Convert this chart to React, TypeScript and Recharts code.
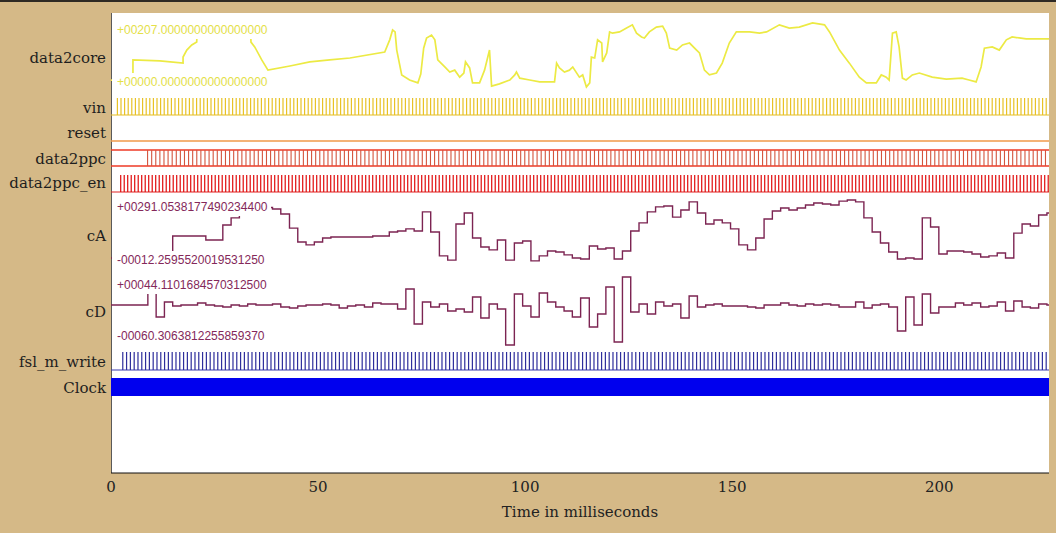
import React from "react";
import { ComposedChart, Line, XAxis, YAxis, Label } from "recharts";

const W = 1056;
const H = 533;
const PLOT_LEFT = 111;
const PLOT_RIGHT = 1049;
const PLOT_TOP = 13;
const PLOT_BOTTOM = 473;
const T_END = 226.5;
const SERIF = "'DejaVu Serif', serif";
const SANS = "'Liberation Sans', Arial, sans-serif";

const xTicks = [0, 50, 100, 150, 200];

// data2core, [ms, value]
const data2core: [number, number][] = [
  [0, 25], [5.3, 25], [5.3, 88], [11.8, 85], [17.4, 78], [17.4, 97], [18.3, 119], [19.5, 135], [20.7, 144],
  [20.8, 182], [33.7, 182], [33.8, 144], [34.7, 129], [36.4, 88], [37.9, 56], [43.2, 69], [48.0, 82],
  [52.8, 88], [57.7, 94], [66.1, 113], [67.3, 151], [68.0, 182], [68.6, 176], [69.0, 119], [70.2, 41],
  [72.1, 25], [74.1, 16], [74.8, 44], [75.5, 125], [76.2, 157], [77.4, 166], [78.2, 151], [78.9, 88],
  [80.6, 66], [81.8, 50], [83.0, 56], [84.2, 34], [85.2, 47], [85.6, 82], [86.6, 63], [87.3, 16],
  [89.0, 16], [90.2, 56], [91.4, 119], [91.9, 6], [93.8, 13], [96.3, 25], [97.5, 41], [97.9, 50],
  [98.7, 31], [101.1, 25], [103.5, 19], [107.1, 19], [107.6, 78], [108.3, 63], [109.5, 50], [110.7, 56],
  [111.5, 66], [113.1, 34], [113.9, 41], [114.8, 3], [115.6, 16], [116.0, 97], [116.8, 94], [117.5, 151],
  [118.5, 141], [118.7, 82], [119.7, 110], [120.4, 176], [121.1, 172], [122.8, 176], [124.5, 188],
  [125.9, 198], [126.9, 172], [128.1, 160], [128.8, 157], [130.0, 176], [131.7, 191], [133.2, 194],
  [134.1, 172], [134.9, 125], [136.6, 119], [138.0, 135], [139.7, 141], [141.4, 119], [142.1, 110],
  [143.3, 56], [144.5, 41], [146.2, 47], [147.6, 78], [149.3, 141], [151.0, 176], [154.2, 176],
  [156.6, 172], [158.3, 176], [161.4, 198], [163.8, 188], [166.2, 191], [169.4, 204], [172.3, 198],
  [173.5, 176], [175.9, 119], [178.3, 78], [180.7, 34], [182.4, 16], [184.8, 16], [186.0, 41],
  [187.2, 34], [187.9, 25], [188.7, 172], [189.6, 176], [190.3, 129], [191.1, 31], [192.0, 25],
  [193.5, 41], [195.2, 47], [198.3, 34], [201.7, 28], [205.5, 31], [207.2, 25], [208.9, 19],
  [210.1, 66], [210.9, 125], [212.8, 129], [214.5, 119], [216.2, 151], [217.6, 160], [219.3, 157],
  [221.0, 154], [226.5, 154],
];

// cA, sample start [ms, value]
const cA: [number, number][] = [
  [0, 7], [14.9, 113], [16.9, 113], [18.9, 113], [20.9, 113], [22.9, 94], [25.0, 94], [27.0, 166],
  [29.0, 200], [31.0, 250], [33.0, 250], [35.0, 250], [37.0, 250], [39.0, 243], [41.0, 219], [43.1, 151],
  [45.1, 84], [47.1, 70], [49.1, 84], [51.1, 103], [53.1, 108], [55.1, 108], [57.1, 108], [59.1, 108],
  [61.2, 108], [63.2, 113], [65.2, 113], [67.2, 132], [69.2, 137], [71.2, 147], [73.2, 137], [75.2, 229],
  [77.2, 132], [79.3, 17], [81.3, -3], [83.3, 171], [85.3, 224], [87.3, 103], [89.3, 60], [91.3, 46],
  [93.3, 94], [95.3, -3], [97.4, 79], [99.4, 89], [101.4, -7], [103.4, 17], [105.4, 41], [107.4, 36],
  [109.4, 22], [111.4, 7], [113.4, 2], [115.5, 65], [117.5, 50], [119.5, 55], [121.5, 2], [123.5, 41],
  [125.5, 137], [127.5, 176], [129.5, 229], [131.5, 253], [133.5, 257], [135.6, 204], [137.6, 238],
  [139.6, 277], [141.6, 224], [143.6, 171], [145.6, 190], [147.6, 176], [149.6, 147], [151.6, 70],
  [153.7, 46], [155.7, 103], [157.7, 195], [159.7, 233], [161.7, 248], [163.7, 238], [165.7, 248],
  [167.7, 262], [169.7, 272], [171.8, 267], [173.8, 262], [175.8, 281], [177.8, 286], [179.8, 277],
  [181.8, 200], [183.8, 132], [185.8, 79], [187.8, 36], [189.9, 2], [191.9, 7], [193.9, 2], [195.9, 200],
  [197.9, 156], [199.9, 26], [201.9, 41], [203.9, 41], [205.9, 36], [207.9, 26], [210.0, 12], [212.0, 17],
  [214.0, 31], [216.0, 7], [218.0, 127], [220.0, 171], [222.0, 161], [224.0, 214], [226.0, 224], [226.5, 224],
];

// cD, sample start [ms, value]
const cD: [number, number][] = [
  [0, 1.1], [8.9, 30], [10.9, -17.3], [12.9, 5.7], [14.9, -0.4], [16.9, 1.1], [18.9, 1.1], [20.9, 4.2],
  [22.9, 1.1], [25.0, -0.4], [27.0, -2.0], [29.0, 1.1], [31.0, -0.4], [33.0, 2.6], [35.0, 1.1], [37.0, 1.1],
  [39.0, 2.6], [41.0, -2.0], [43.1, -3.5], [45.1, -0.4], [47.1, 1.1], [49.1, 1.1], [51.1, 2.6], [53.1, 1.1],
  [55.1, -3.5], [57.1, -0.4], [59.1, 1.1], [61.2, -2.0], [63.2, 4.2], [65.2, 2.6], [67.2, 2.6], [69.2, -5.0],
  [71.2, 25.7], [73.2, -28.1], [75.2, 5.7], [77.2, -2.0], [79.3, 2.6], [81.3, -8.1], [83.3, -5.0], [85.3, -9.6],
  [87.3, 13.4], [89.3, -18.8], [91.3, 2.6], [93.3, -5.0], [95.3, -60.3], [97.4, 18.0], [99.4, -0.4],
  [101.4, -17.3], [103.4, 19.5], [105.4, 5.7], [107.4, -2.0], [109.4, -8.1], [111.4, -17.3], [113.4, 11.9],
  [115.5, -32.7], [117.5, -12.7], [119.5, 28.8], [121.5, -55.7], [123.5, 44.1], [125.5, -9.6], [127.5, 2.6],
  [129.5, -12.7], [131.5, 5.7], [133.5, -0.4], [135.6, 2.6], [137.6, -18.8], [139.6, 14.9], [141.6, -2.0],
  [143.6, 1.1], [145.6, 2.6], [147.6, -0.4], [149.6, -0.4], [151.6, -0.4], [153.7, -2.0], [155.7, -3.5],
  [157.7, 1.1], [159.7, 1.1], [161.7, 4.2], [163.7, 1.1], [165.7, -0.4], [167.7, 2.6], [169.7, 1.1],
  [171.8, 2.6], [173.8, 1.1], [175.8, -2.0], [177.8, -2.0], [179.8, 5.7], [181.8, -3.5], [183.8, 1.1],
  [185.8, 2.6], [187.8, -2.0], [189.9, -38.8], [191.9, 13.4], [193.9, -29.6], [195.9, 18.0], [197.9, -11.2],
  [199.9, -2.0], [201.9, -2.0], [203.9, 4.2], [205.9, 1.1], [207.9, 4.2], [210.0, -2.0], [212.0, -0.4],
  [214.0, 5.7], [216.0, -8.1], [218.0, 7.3], [220.0, -2.0], [222.0, -3.5], [224.0, 2.6], [226.0, 1.1],
  [226.5, 1.1],
];

// digital signals: time span where pulses run [from, to] in ms
const vinPulses: [number, number] = [1.4, T_END];
const data2ppcPulses: [number, number] = [8.7, T_END];
const data2ppcEnPulses: [number, number] = [2.2, T_END];
const fslPulses: [number, number] = [2.7, T_END];
const clockSpan: [number, number] = [0, T_END];

const rowLabels = [
  { name: "data2core", y: 58 },
  { name: "vin", y: 108 },
  { name: "reset", y: 133 },
  { name: "data2ppc", y: 159 },
  { name: "data2ppc_en", y: 183 },
  { name: "cA", y: 236 },
  { name: "cD", y: 312 },
  { name: "fsl_m_write", y: 362 },
  { name: "Clock", y: 388 },
];

const rangeLabels = [
  { text: "+00207.0000000000000000", y: 30, color: "#E4E048" },
  { text: "+00000.0000000000000000", y: 82, color: "#E4E048" },
  { text: "+00291.0538177490234400", y: 207, color: "#84285A" },
  { text: "-00012.2595520019531250", y: 260, color: "#84285A" },
  { text: "+00044.1101684570312500", y: 285, color: "#84285A" },
  { text: "-00060.3063812255859370", y: 336, color: "#84285A" },
];

const toRows = (pairs: [number, number][]) => pairs.map(([t, v]) => ({ t, v }));
const span = ([a, b]: [number, number], v: number) => [{ t: a, v }, { t: b, v }];
const full = (v: number) => span([0, T_END], v);

// map value lo -> pixel yLo, hi -> pixel yHi
const rowDomain = (lo: number, hi: number, yLo: number, yHi: number): [number, number] => {
  const s = (yLo - yHi) / (hi - lo);
  return [lo - (PLOT_BOTTOM - yLo) / s, hi + (yHi - PLOT_TOP) / s];
};

const axes: { id: string; domain: [number, number] }[] = [
  { id: "core", domain: rowDomain(0, 207, 88, 22) },
  { id: "vin", domain: rowDomain(0, 1, 115, 98) },
  { id: "reset", domain: rowDomain(0, 1, 141, 133) },
  { id: "ppc", domain: rowDomain(0, 1, 166, 150) },
  { id: "ppcEn", domain: rowDomain(0, 1, 192, 175) },
  { id: "cA", domain: rowDomain(-12.26, 291.05, 262, 199) },
  { id: "cD", domain: rowDomain(-60.31, 44.11, 345, 277) },
  { id: "fsl", domain: rowDomain(0, 1, 370, 352) },
  { id: "clk", domain: rowDomain(0, 1, 396, 378) },
];

const common = { dataKey: "v", dot: false, activeDot: false, isAnimationActive: false } as const;

export default function App() {
  return (
    <div style={{ position: "absolute", left: 0, top: 0, width: W, height: H, background: "#D5B987", overflow: "hidden" }}>
      <div style={{ position: "absolute", left: 0, top: 0, width: W, height: 2, background: "#2e2a24" }} />
      <div
        style={{
          position: "absolute",
          left: PLOT_LEFT,
          top: PLOT_TOP,
          width: PLOT_RIGHT - PLOT_LEFT,
          height: PLOT_BOTTOM - PLOT_TOP,
          background: "#fff",
          borderLeft: "1px solid #5a5a5a",
          boxSizing: "border-box",
        }}
      />
      <div style={{ position: "absolute", left: 0, top: 0 }}>
        <ComposedChart
          width={W}
          height={H}
          margin={{ top: PLOT_TOP, right: W - PLOT_RIGHT, bottom: 0, left: PLOT_LEFT }}
        >
          <XAxis
            dataKey="t"
            type="number"
            domain={[0, T_END]}
            ticks={xTicks}
            allowDataOverflow
            height={H - PLOT_BOTTOM}
            stroke="#111"
            tickLine={false}
            tick={{ fill: "#222", fontSize: 15, fontFamily: SERIF }}
          >
            <Label value="Time in milliseconds" position="insideBottom" offset={16} fill="#222" fontSize={15} fontFamily={SERIF} />
          </XAxis>
          {axes.map((a) => (
            <YAxis key={a.id} yAxisId={a.id} type="number" domain={a.domain} allowDataOverflow hide />
          ))}

          <Line {...common} yAxisId="core" data={toRows(data2core)} type="linear" stroke="#ECEA44" strokeWidth={1.7} />

          <Line {...common} yAxisId="vin" data={full(0)} type="linear" stroke="#E6BE22" strokeWidth={1.2} />
          <Line {...common} yAxisId="vin" data={span(vinPulses, 0.5)} type="linear" stroke="#E8C226" strokeWidth={17} strokeDasharray="1.2 2.4" />

          <Line {...common} yAxisId="reset" data={full(0)} type="linear" stroke="#F09A4A" strokeWidth={1.4} />

          <Line {...common} yAxisId="ppc" data={full(1)} type="linear" stroke="#EE3A26" strokeWidth={1.3} />
          <Line {...common} yAxisId="ppc" data={full(0)} type="linear" stroke="#EE3A26" strokeWidth={1.3} />
          <Line {...common} yAxisId="ppc" data={span(data2ppcPulses, 0.5)} type="linear" stroke="#D4543E" strokeWidth={16} strokeDasharray="1.1 3" />

          <Line {...common} yAxisId="ppcEn" data={full(0)} type="linear" stroke="#E02222" strokeWidth={1.2} />
          <Line {...common} yAxisId="ppcEn" data={span(data2ppcEnPulses, 0.5)} type="linear" stroke="#E00C0C" strokeWidth={17} strokeDasharray="1.2 2.3" />

          <Line {...common} yAxisId="cA" data={toRows(cA)} type="stepAfter" stroke="#7C2452" strokeWidth={1.4} />
          <Line {...common} yAxisId="cD" data={toRows(cD)} type="stepAfter" stroke="#7C2452" strokeWidth={1.4} />

          <Line {...common} yAxisId="fsl" data={full(0)} type="linear" stroke="#3A3AAE" strokeWidth={1.2} />
          <Line {...common} yAxisId="fsl" data={span(fslPulses, 0.5)} type="linear" stroke="#2E2E9C" strokeWidth={18} strokeDasharray="1.2 2.6" />

          <Line {...common} yAxisId="clk" data={span(clockSpan, 0.5)} type="linear" stroke="#0000EE" strokeWidth={18} />
        </ComposedChart>
      </div>

      {rangeLabels.map((l) => (
        <div
          key={l.text}
          style={{
            position: "absolute",
            left: PLOT_LEFT + 1,
            top: l.y - 9,
            width: 159,
            height: 18,
            lineHeight: "18px",
            background: "#fff",
            color: l.color,
            fontFamily: SANS,
            fontSize: 12,
            paddingLeft: 5,
            boxSizing: "border-box",
            whiteSpace: "nowrap",
          }}
        >
          {l.text}
        </div>
      ))}

      {rowLabels.map((r) => (
        <div
          key={r.name}
          style={{
            position: "absolute",
            right: W - 106,
            top: r.y - 10,
            height: 20,
            lineHeight: "20px",
            fontFamily: SERIF,
            fontSize: 15,
            color: "#1e1e1e",
            whiteSpace: "nowrap",
          }}
        >
          {r.name}
        </div>
      ))}
    </div>
  );
}
